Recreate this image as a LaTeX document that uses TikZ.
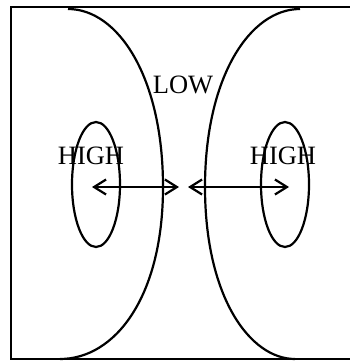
\documentclass[tikz,border=0pt]{standalone}
\usepackage{fontspec}
\setmainfont{Liberation Serif}
\usetikzlibrary{shapes.geometric, arrows.meta, positioning}

\begin{document}
\begin{tikzpicture}[
    x=1pt, y=-1pt,
    line width=2.2pt,
    cell/.style={ellipse, draw, minimum width=48pt, minimum height=125pt, inner sep=0pt},
    label/.style={font=\fontsize{26.5}{26.5}\selectfont, inner sep=0pt},
    push/.style={{Straight Barb[length=12pt, width=15pt]}-{Straight Barb[length=12pt, width=15pt]}}
]
\useasboundingbox (0,0) rectangle (350,361);

% Frame (open on the right)
\draw (350,7) -- (11,7) -- (11,359) -- (350,359);

% Boundary curves
\draw (68,9) .. controls (118,9) and (163,77) .. (163,187)
             .. controls (163,297) and (115,359) .. (60,359);
\draw (300,9) .. controls (250,9) and (205,77) .. (205,187)
              .. controls (205,297) and (250,359) .. (295,359);

% Ellipses
\node[cell] (lcell) at (96,184.5) {};
\node[cell] (rcell) at (285,184.5) {};

% Labels
\node[label] (low) at (183,85) {LOW};
\node[label] (lhigh) at (91,156) {HIGH};
\node[label] (rhigh) at (283,156) {HIGH};

% Arrows
\coordinate (la) at (92,187);
\coordinate (lb) at (179,187);
\coordinate (ra) at (188,187);
\coordinate (rb) at (289,187);
\draw[push] (la) -- (lb);
\draw[push] (ra) -- (rb);

\end{tikzpicture}
\end{document}
